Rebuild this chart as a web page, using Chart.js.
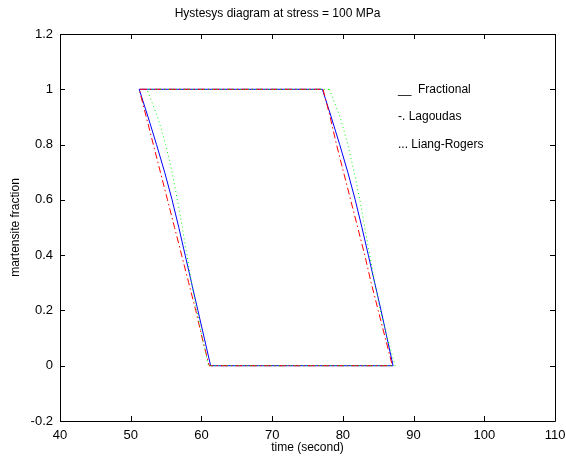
<!DOCTYPE html>
<html>
<head>
<meta charset="utf-8">
<script src="https://cdn.jsdelivr.net/npm/chart.js@4"></script>
<style>
  html, body { margin: 0; padding: 0; background: #fff; }
  #wrap { width: 566px; height: 464px; }
</style>
</head>
<body>
<div id="wrap"><canvas id="hystChart"></canvas></div>
<script>
const levels = [1, 0.9, 0.8, 0.7, 0.6, 0.5, 0.4, 0.3, 0.2, 0.1, 0];
const fractionalLeft = [51.2, 52.45, 53.65, 54.8, 55.85, 56.8, 57.7, 58.6, 59.5, 60.4, 61.3];
const fractionalRight = [77.1, 78.35, 79.55, 80.7, 81.75, 82.7, 83.6, 84.5, 85.4, 86.25, 87.1];
const lagoudasLeft = [51.2, 52.2, 53.2, 54.2, 55.2, 56.2, 57.2, 58.2, 59.2, 60.1, 61.1];
const lagoudasRight = [77.2, 78.2, 79.1, 80.1, 81.1, 82.1, 83.1, 84.0, 85.0, 86.0, 87.0];
const liangLeft = [52.3, 53.8, 54.95, 55.85, 56.6, 57.3, 57.95, 58.6, 59.35, 60.15, 61.0];
const liangRight = [78.1, 79.6, 80.7, 81.6, 82.4, 83.1, 83.8, 84.5, 85.3, 86.3, 87.4];

const xTicks = [40, 50, 60, 70, 80, 90, 100, 110];
const yTicks = [-0.2, 0, 0.2, 0.4, 0.6, 0.8, 1, 1.2];

const legendNotes = [
  { x: 87.8, y: 1.0, text: "__  Fractional" },
  { x: 87.8, y: 0.9, text: "-. Lagoudas" },
  { x: 87.8, y: 0.8, text: "... Liang-Rogers" },
];

const FONT = "Arial, 'Liberation Sans', Helvetica, sans-serif";

// closed loop: top edge, right leg down, bottom edge back, left leg up
function buildLoop(left, right) {
  const pts = [];
  levels.forEach((lv, i) => pts.push({ x: right[i], y: lv }));
  for (let i = levels.length - 1; i >= 0; i--) {
    pts.push({ x: left[i], y: levels[i] });
  }
  pts.push({ x: right[0], y: levels[0] });
  return pts;
}

// MATLAB style box with inward ticks on all four sides
const boxPlugin = {
  id: "matlabBox",
  afterDatasetsDraw(chart) {
    const { ctx, chartArea: a, scales } = chart;
    const len = 5;
    ctx.save();
    ctx.strokeStyle = "#000";
    ctx.lineWidth = 1;
    ctx.beginPath();
    ctx.rect(a.left + 0.5, a.top + 0.5, a.right - a.left, a.bottom - a.top);
    xTicks.forEach((v) => {
      const px = Math.round(scales.x.getPixelForValue(v)) + 0.5;
      ctx.moveTo(px, a.bottom);
      ctx.lineTo(px, a.bottom - len);
      ctx.moveTo(px, a.top);
      ctx.lineTo(px, a.top + len);
    });
    yTicks.forEach((v) => {
      const py = Math.round(scales.y.getPixelForValue(v)) + 0.5;
      ctx.moveTo(a.left, py);
      ctx.lineTo(a.left + len, py);
      ctx.moveTo(a.right, py);
      ctx.lineTo(a.right - len, py);
    });
    ctx.stroke();

    // text annotations used as legend
    ctx.fillStyle = "#000";
    ctx.font = "12px " + FONT;
    ctx.textBaseline = "middle";
    ctx.textAlign = "left";
    legendNotes.forEach((n) => {
      ctx.fillText(n.text, scales.x.getPixelForValue(n.x), scales.y.getPixelForValue(n.y));
    });
    ctx.restore();
  },
};

const ctx = document.getElementById("hystChart");
new Chart(ctx, {
  type: "scatter",
  data: {
    datasets: [
      {
        label: "Liang-Rogers",
        data: buildLoop(liangLeft, liangRight),
        borderColor: "#00ff00",
        borderDash: [1, 3],
      },
      {
        label: "Lagoudas",
        data: buildLoop(lagoudasLeft, lagoudasRight),
        borderColor: "#ff0000",
        borderDash: [7, 3, 1.5, 3],
      },
      {
        label: "Fractional",
        data: buildLoop(fractionalLeft, fractionalRight),
        borderColor: "#0000ff",
      },
    ].map((d) => ({
      ...d,
      showLine: true,
      borderWidth: 1,
      pointRadius: 0,
      tension: 0,
      fill: false,
    })),
  },
  options: {
    responsive: true,
    maintainAspectRatio: false,
    animation: false,
    layout: { padding: { top: 0, right: 11, left: 0, bottom: 0 } },
    plugins: {
      legend: { display: false },
      tooltip: { enabled: false },
      title: {
        display: true,
        text: "Hystesys diagram at stress = 100 MPa",
        color: "#000",
        font: { family: FONT, size: 12, weight: "normal" },
        padding: { top: 6, bottom: 13.6 },
      },
    },
    scales: {
      x: {
        type: "linear",
        min: 40,
        max: 110,
        afterBuildTicks: (scale) => {
          scale.ticks = xTicks.map((v) => ({ value: v }));
        },
        afterFit: (scale) => {
          scale.height = 43;
          scale.paddingLeft = 0;
          scale.paddingRight = 0;
        },
        grid: { display: false, drawTicks: false },
        border: { display: false },
        ticks: {
          color: "#000",
          padding: 7,
          font: { family: FONT, size: 13 },
          callback: (v) => String(v),
        },
        title: {
          display: true,
          text: "time (second)",
          color: "#000",
          font: { family: FONT, size: 12 },
          padding: { top: 2, bottom: 9 },
        },
      },
      y: {
        type: "linear",
        min: -0.2,
        max: 1.2,
        afterBuildTicks: (scale) => {
          scale.ticks = yTicks.map((v) => ({ value: v }));
        },
        afterFit: (scale) => {
          scale.width = 60;
          scale.paddingTop = 0;
          scale.paddingBottom = 0;
        },
        grid: { display: false, drawTicks: false },
        border: { display: false },
        ticks: {
          color: "#000",
          padding: 7,
          font: { family: FONT, size: 13 },
          callback: (v) => String(Number(v.toFixed(1))),
        },
        title: {
          display: true,
          text: "martensite fraction",
          color: "#000",
          font: { family: FONT, size: 12 },
          padding: { top: 8, bottom: 4 },
        },
      },
    },
  },
  plugins: [boxPlugin],
});
</script>
</body>
</html>
